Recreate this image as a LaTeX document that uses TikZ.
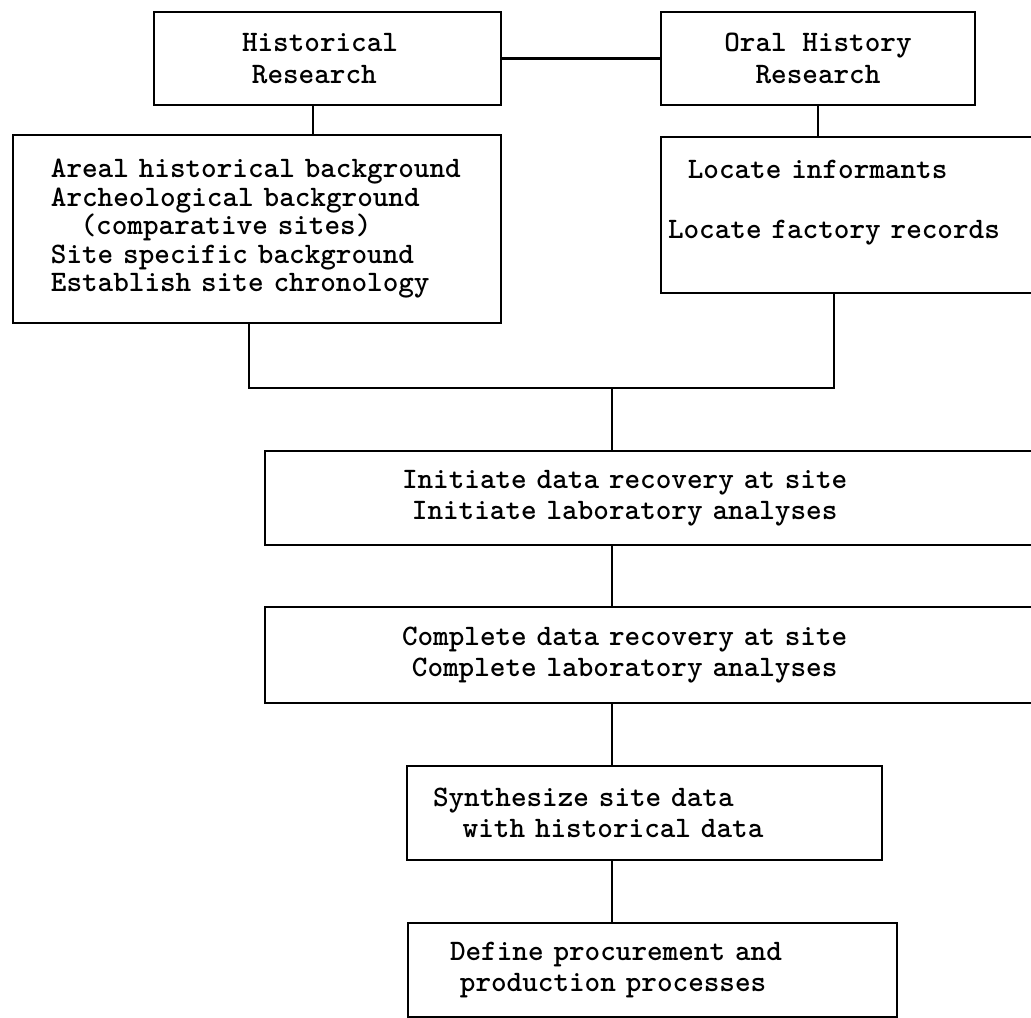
\documentclass[tikz,border=0pt]{standalone}
\usepackage{tikz}

\begin{document}
\begin{tikzpicture}[x=0.5pt, y=-0.5pt,
  box/.style={draw, line width=1.3pt, inner ysep=0pt, font=\fontsize{14.86pt}{15.75pt}\selectfont\ttfamily\bfseries},
  link/.style={line width=1.3pt}]
\useasboundingbox (0,0) rectangle (1031,1017);
\node[box, align=left, text width=85.5pt, inner xsep=44pt, minimum height=46.5pt] (hist) at (327.5,58.5) {Historical\\\ Research};
\node[box, align=center, minimum width=157pt, minimum height=46.5pt] (oral) at (818,58.5) {Oral History\\Research};
\node[box, align=left, text width=235.8pt, inner xsep=4.1pt, minimum height=94pt, font=\fontsize{14.86pt}{14.25pt}\selectfont\ttfamily\bfseries] (areal) at (257,229) {\ \ \ Areal historical background\\\ \ \ Archeological background\\\ \ \ \ \ \ (comparative sites)\\\ \ \ Site specific background\\\ \ \ Establish site chronology};
\node[box, align=left, text width=179pt, inner xsep=3.5pt, minimum height=78pt] (locate) at (847,215) {\ \ Locate informants\\[14.25pt]Locate factory records\\\mbox{}};
\node[box, align=left, text width=247pt, inner xsep=68.5pt, minimum height=47pt] (initiate) at (649,498) {Initiate data recovery at site\\\ Initiate laboratory analyses};
\node[box, align=left, text width=247pt, inner xsep=68.5pt, minimum height=48pt] (complete) at (649,655) {Complete data recovery at site\\\ Complete laboratory analyses};
\node[box, align=left, text width=211.5pt, inner xsep=13pt, minimum height=47pt] (synth) at (644.5,813) {Synthesize site data\\\ \ \ with historical data};
\node[box, align=left, text width=202.5pt, inner xsep=21pt, minimum height=47pt] (procure) at (652.5,970) {Define procurement and\\\ production processes};
% where the stems drop
\coordinate (hx) at (313,0);
\coordinate (ox) at (818,0);
\coordinate (ax) at (249,0);
\coordinate (lx) at (834,0);
\coordinate (join) at (612,388);
\draw[link] (hist) -- (oral);
\draw[link] (hist.south -| hx) -- (areal.north -| hx);
\draw[link] (oral.south -| ox) -- (locate.north -| ox);
\draw[link] (areal.south -| ax) |- (join);
\draw[link] (locate.south -| lx) |- (join);
\draw[link] (join) -- (initiate.north -| join);
\draw[link] (initiate.south -| join) -- (complete.north -| join);
\draw[link] (complete.south -| join) -- (synth.north -| join);
\draw[link] (synth.south -| join) -- (procure.north -| join);
\end{tikzpicture}
\end{document}
